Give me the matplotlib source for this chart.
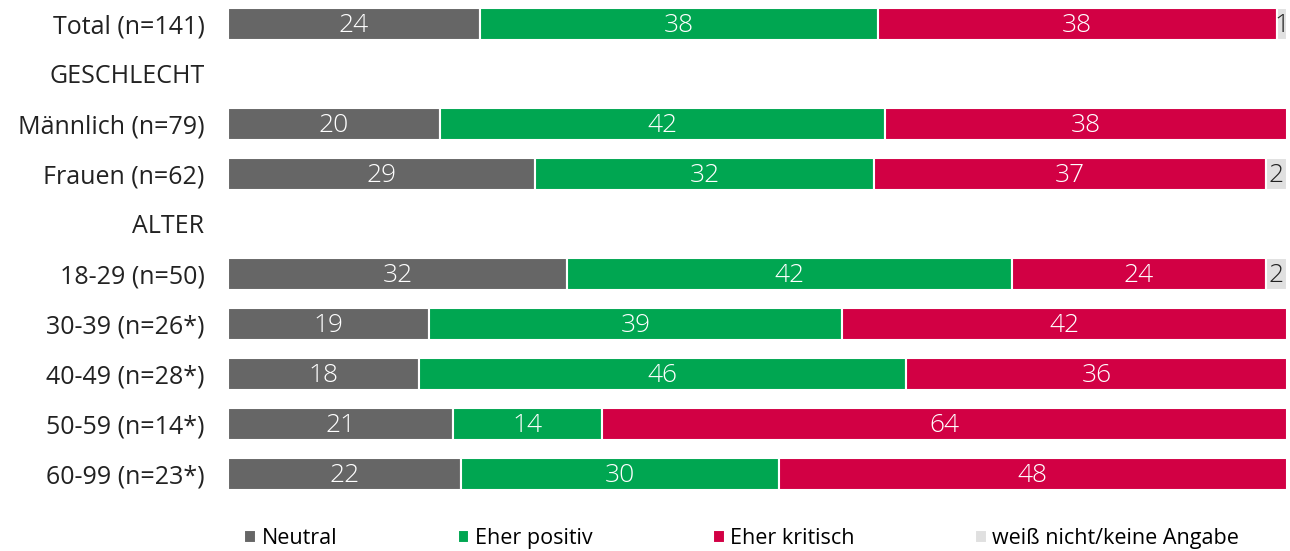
import matplotlib.pyplot as plt
import numpy as np

# rows from top to bottom; header rows have no bars
row_labels = ["Total (n=141)", "GESCHLECHT", "Männlich (n=79)", "Frauen (n=62)", "ALTER",
              "18-29 (n=50)", "30-39 (n=26*)", "40-49 (n=28*)", "50-59 (n=14*)", "60-99 (n=23*)"]
neutral = [24, 0, 20, 29, 0, 32, 19, 18, 21, 22]
positiv = [38, 0, 42, 32, 0, 42, 39, 46, 14, 30]
kritisch = [38, 0, 38, 37, 0, 24, 42, 36, 64, 48]
weiss_nicht = [1, 0, 0, 2, 0, 2, 0, 0, 0, 0]

series = ["Neutral", "Eher positiv", "Eher kritisch", "weiß nicht/keine Angabe"]
colors = ["#666666", "#00A651", "#D20044", "#E0E0E0"]
text_colors = ["white", "white", "white", "#222222"]

plt.rcParams["font.family"] = ["Open Sans", "DejaVu Sans"]

fig = plt.figure(figsize=(12.9, 5.51), dpi=100)
ax = fig.add_axes([228 / 1290, 52 / 551, 1059 / 1290, 500 / 551])

data = np.array([neutral, positiv, kritisch, weiss_nicht], dtype=float)
totals = data.sum(axis=0)
totals[totals == 0] = 1
shares = data / totals * 100

y = np.arange(len(row_labels))
left = np.zeros(len(row_labels))
for name, vals, raw, col, tcol in zip(series, shares, data, colors, text_colors):
    mask = raw > 0
    ax.barh(y[mask], vals[mask], left=left[mask], height=0.64, color=col,
            edgecolor="white", linewidth=1.5, label=name)
    for yy, l, w, r in zip(y[mask], left[mask], vals[mask], raw[mask]):
        ax.text(l + w / 2, yy + 0.03, f"{int(r)}", ha="center", va="center",
                color=tcol, fontsize=19, fontweight="light")
    left += vals

ax.set_xlim(0, 100)
ax.set_ylim(len(row_labels) - 0.5, -0.5)
ax.set_yticks(y)
ax.set_yticklabels(row_labels, fontsize=18, color="#222222")
ax.tick_params(axis="y", length=0, pad=17)
ax.set_xticks([])
for s in ax.spines.values():
    s.set_visible(False)

handles, labels = ax.get_legend_handles_labels()
fig.legend(handles, labels, loc="center", bbox_to_anchor=(0.575, 0.022), ncol=4,
           frameon=False, fontsize=15.5, handlelength=0.55, handleheight=0.55,
           handletextpad=0.25, columnspacing=5.6)

fig.savefig("out.png", dpi=100)
